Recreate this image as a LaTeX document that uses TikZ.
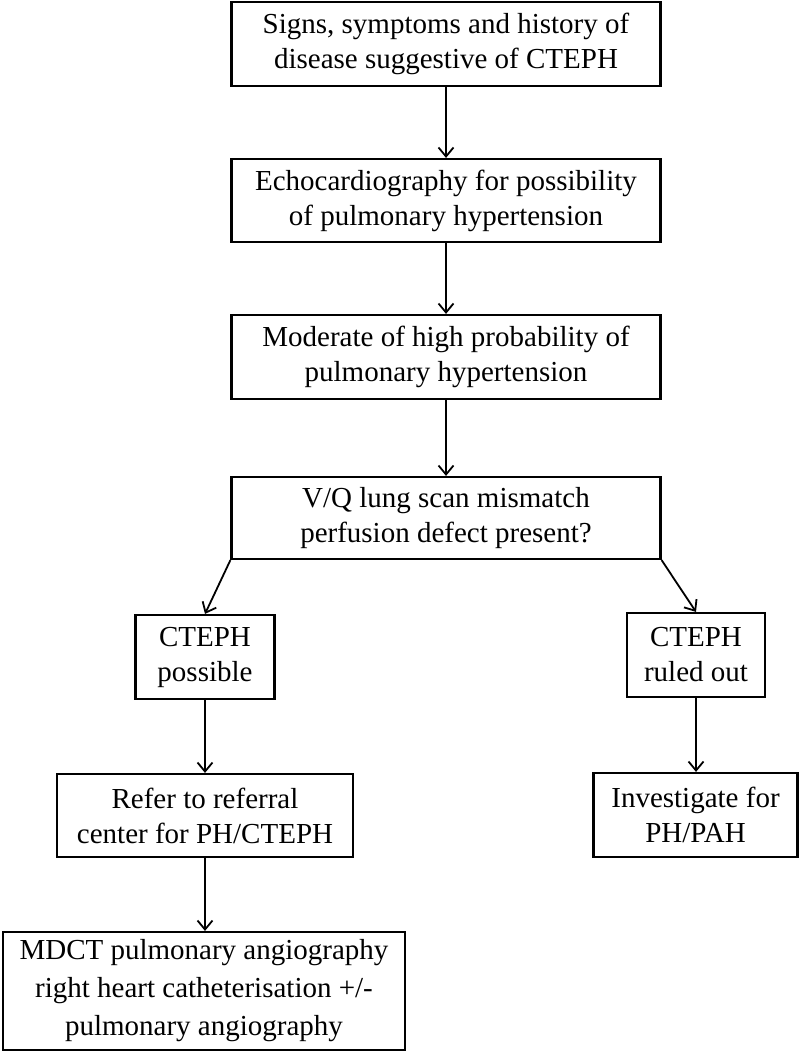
\documentclass[tikz,border=0pt]{standalone}
\usepackage{fontspec}
\setmainfont{Liberation Serif}
\usetikzlibrary{arrows.meta}
\begin{document}
\begin{tikzpicture}[x=1pt,y=-1pt,
  box/.style={draw, line width=2.2pt, rectangle, align=center, inner sep=0pt,
    font=\fontsize{29}{35}\selectfont},
  conn/.style={line width=1.8pt, -{Straight Barb[length=9pt,width=15pt,line width=1.8pt]}}]
\useasboundingbox (0,0) rectangle (800,1054);
\node[box, minimum width=429pt, minimum height=84pt] (b1) at (446,44) {Signs, symptoms and history of\\disease suggestive of CTEPH};
\node[box, minimum width=429pt, minimum height=83pt] (b2) at (446,200.5) {Echocardiography for possibility\\of pulmonary hypertension};
\node[box, minimum width=429pt, minimum height=84pt] (b3) at (446,357) {Moderate of high probability of\\pulmonary hypertension};
\node[box, minimum width=429pt, minimum height=82pt] (b4) at (446,518) {V/Q lung scan mismatch\\perfusion defect present?};
\node[box, minimum width=139pt, minimum height=84pt] (b5) at (205,657) {CTEPH\\possible};
\node[box, minimum width=138pt, minimum height=84pt] (b6) at (696,655) {CTEPH\\ruled out};
\node[box, minimum width=296pt, minimum height=83pt] (b7) at (205,815.5) {Refer to referral\\center for PH/CTEPH};
\node[box, minimum width=204pt, minimum height=84pt] (b8) at (695.5,815) {Investigate for\\PH/PAH};
\node[box, minimum width=402pt, minimum height=118pt, font=\fontsize{29}{38}\selectfont] (b9) at (204,991) {MDCT pulmonary angiography\\right heart catheterisation +/-\\pulmonary angiography};
\draw[conn] (b1.south) -- (b2.north);
\draw[conn] (b2.south) -- (b3.north);
\draw[conn] (b3.south) -- (b4.north);
\draw[conn] (b4.south west) -- (b5.north);
\draw[conn] (b4.south east) -- (b6.north);
\draw[conn] (b5.south) -- (b7.north);
\draw[conn] (b6.south) -- (b6.south |- b8.north);
\draw[conn] (b7.south) -- (b7.south |- b9.north);
\end{tikzpicture}
\end{document}
